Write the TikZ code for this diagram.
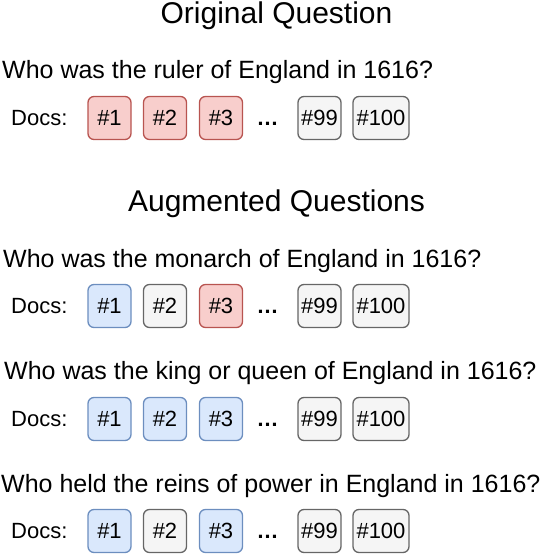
\documentclass[tikz,border=0pt]{standalone}
\usepackage{fontspec}
\setmainfont{Liberation Sans}
\definecolor{hitfill}{HTML}{F8CECC}
\definecolor{hitdraw}{HTML}{B85450}
\definecolor{goodfill}{HTML}{DAE8FC}
\definecolor{gooddraw}{HTML}{6C8EBF}
\definecolor{plainfill}{HTML}{F5F5F5}
\definecolor{plaindraw}{HTML}{666666}
\begin{document}
\begin{tikzpicture}[x=1pt,y=-1pt,
  headfont/.style={font=\fontsize{30}{36}\selectfont},
  qtext/.style={anchor=base west, inner sep=0pt, font=\fontsize{25}{30}\selectfont},
  rowtext/.style={inner sep=0pt, text height=15.8pt, text depth=0pt, font=\fontsize{22}{26}\selectfont},
  doclabel/.style={rowtext, anchor=west},
  dotstext/.style={rowtext, font=\fontsize{22}{26}\selectfont\bfseries},
  docbox/.style={rowtext, draw, rounded corners=6pt, line width=1.3pt, minimum height=43pt, minimum width=43pt},
  widebox/.style={docbox, minimum width=56pt},
  hitbox/.style={fill=hitfill, draw=hitdraw},
  goodbox/.style={fill=goodfill, draw=gooddraw},
  plainbox/.style={fill=plainfill, draw=plaindraw}]
\useasboundingbox (0,0) rectangle (544,554);

\node[headfont, anchor=base] (h1) at (276.5,23.5) {Original Question};
\node[qtext] (q1) at (2,78) {Who was the ruler of England in 1616?};

\node[doclabel] (docs1) at (11,118) {Docs:};
\node[docbox,hitbox] (d1a) at (109.5,118) {\#1};
\node[docbox,hitbox] (d1b) at (165,118) {\#2};
\node[docbox,hitbox] (d1c) at (221,118) {\#3};
\node[dotstext] (dots1) at (267.5,118) {…};
\node[docbox,plainbox] (d1d) at (319.5,118) {\#99};
\node[widebox,plainbox] (d1e) at (381,118) {\#100};

\node[headfont, anchor=base] (h2) at (276.5,211) {Augmented Questions};

\node[qtext] (q2) at (3,267) {Who was the monarch of England in 1616?};
\node[doclabel] (docs2) at (11,306) {Docs:};
\node[docbox,goodbox] (d2a) at (109.5,306) {\#1};
\node[docbox,plainbox] (d2b) at (165,306) {\#2};
\node[docbox,hitbox] (d2c) at (221,306) {\#3};
\node[dotstext] (dots2) at (267.5,306) {…};
\node[docbox,plainbox] (d2d) at (319.5,306) {\#99};
\node[widebox,plainbox] (d2e) at (381,306) {\#100};

\node[qtext] (q3) at (4,379) {Who was the king or queen of England in 1616?};
\node[doclabel] (docs3) at (11,419) {Docs:};
\node[docbox,goodbox] (d3a) at (109.5,419) {\#1};
\node[docbox,goodbox] (d3b) at (165,419) {\#2};
\node[docbox,goodbox] (d3c) at (221,419) {\#3};
\node[dotstext] (dots3) at (267.5,419) {…};
\node[docbox,plainbox] (d3d) at (319.5,419) {\#99};
\node[widebox,plainbox] (d3e) at (381,419) {\#100};

\node[qtext] (q4) at (1,492) {Who held the reins of power in England in 1616?};
\node[doclabel] (docs4) at (11,531) {Docs:};
\node[docbox,goodbox] (d4a) at (109.5,531) {\#1};
\node[docbox,plainbox] (d4b) at (165,531) {\#2};
\node[docbox,goodbox] (d4c) at (221,531) {\#3};
\node[dotstext] (dots4) at (267.5,531) {…};
\node[docbox,plainbox] (d4d) at (319.5,531) {\#99};
\node[widebox,plainbox] (d4e) at (381,531) {\#100};
\end{tikzpicture}
\end{document}
